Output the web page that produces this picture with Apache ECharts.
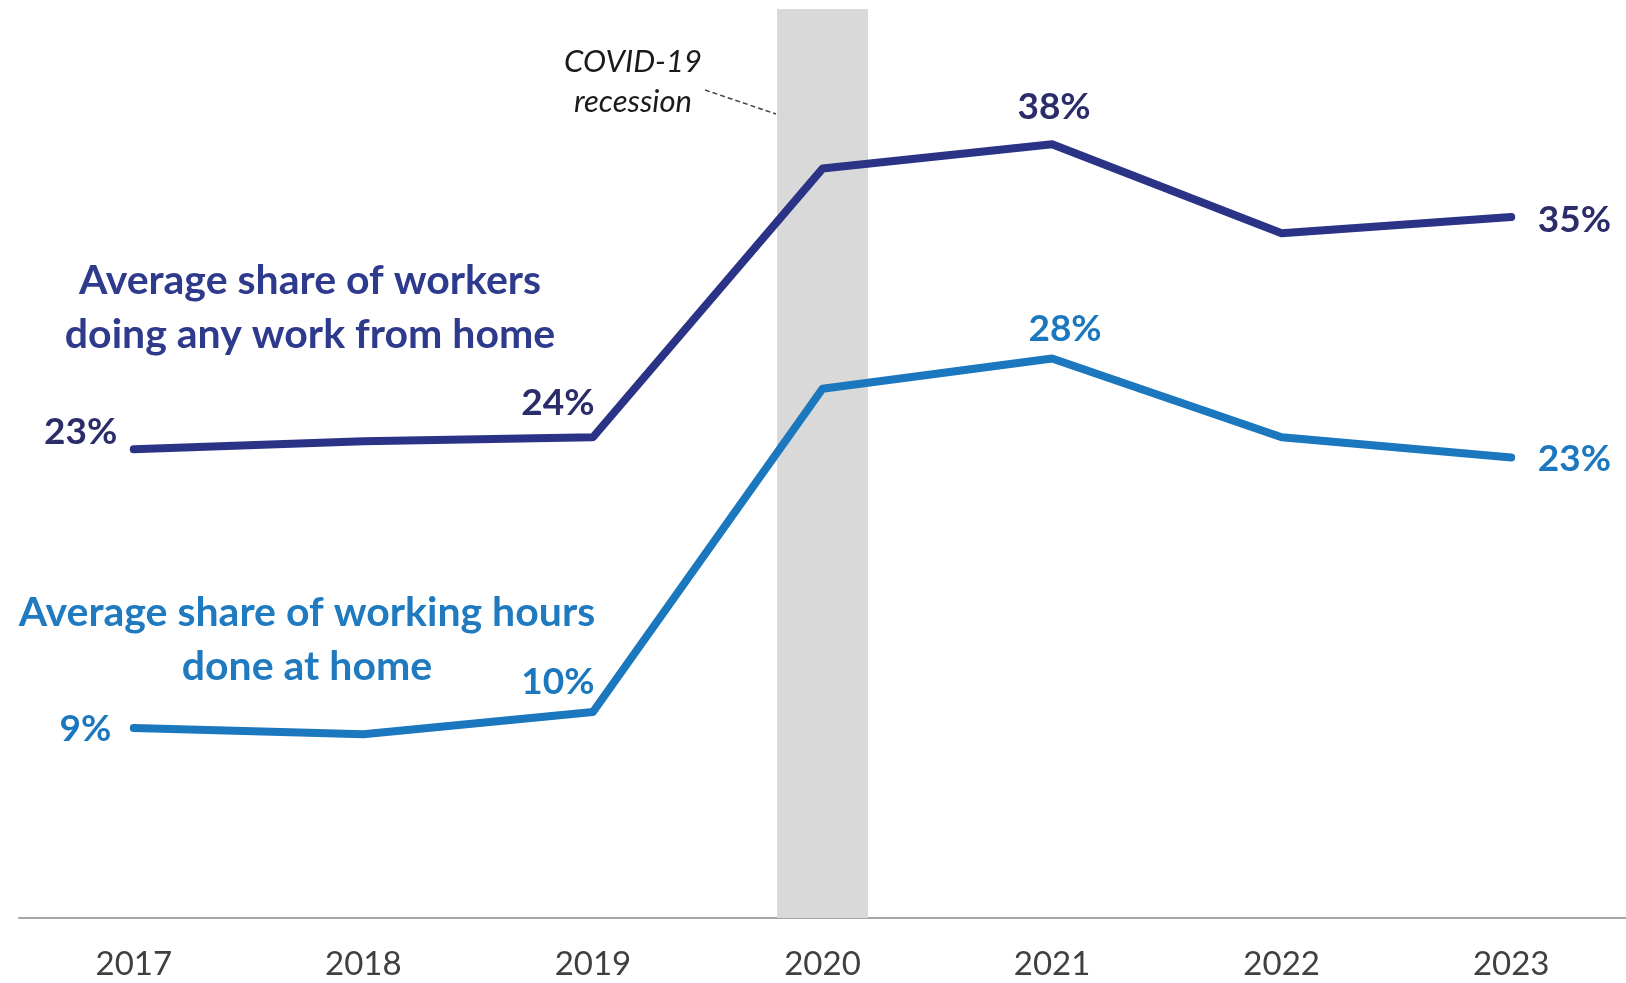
<!DOCTYPE html>
<html>
<head>
<meta charset="utf-8">
<script src="https://cdn.jsdelivr.net/npm/echarts@6/dist/echarts.min.js"></script>
<style>
    html, body { margin: 0; padding: 0; background: #fff; }
    #chart { width: 1626px; height: 983px; }
</style>
</head>
<body>
<div id="chart"></div>
<script>
var years = ["2017", "2018", "2019", "2020", "2021", "2022", "2023"];
var workersShare = [23.2, 23.6, 23.8, 37.1, 38.3, 33.9, 34.7];
var hoursShare = [9.4, 9.1, 10.2, 26.2, 27.7, 23.8, 22.8];
var recessionYear = "2020";
var yMax = 45;

(function() {
    var navy = "#2b3387";
    var navyText = "#2b2c6a";
    var blue = "#1b77be";
    var font = "Lato";

    // which points get a value label, and where
    var workersLabels = {
        0: { position: "left", distance: 16, offset: [0, -17] },
        2: { position: "top", offset: [-35, -10] },
        4: { position: "top", offset: [2, -13] },
        6: { position: "right", distance: 26, offset: [0, 3] }
    };
    var hoursLabels = {
        0: { position: "left", distance: 22, offset: [0, 1] },
        2: { position: "top", offset: [-35, -6] },
        4: { position: "top", offset: [13, -5] },
        6: { position: "right", distance: 26, offset: [0, 2] }
    };

    function buildData(values, labels, color) {
        return values.map(function(v, i) {
            var cfg = labels[i];
            return {
                value: v,
                label: cfg ? Object.assign({ show: true, color: color }, cfg) : { show: false }
            };
        });
    }

    var myChart = echarts.init(document.getElementById("chart"));
    var option = {
        animation: false,
        grid: {
            left: 19,
            right: 0,
            top: 9,
            bottom: 65
        },
        xAxis: {
            type: "category",
            data: years,
            axisLine: {
                lineStyle: { color: "#a6a6a6", width: 2 }
            },
            axisTick: { show: false },
            axisLabel: {
                color: "#404040",
                fontFamily: font,
                fontSize: 33,
                margin: 30
            }
        },
        yAxis: {
            type: "value",
            min: 0,
            max: yMax,
            show: false,
            splitLine: { show: false }
        },
        series: [{
            name: "recession",
            type: "bar",
            barWidth: 91,
            silent: true,
            z: 1,
            data: years.map(function(y) { return y === recessionYear ? yMax : null; }),
            itemStyle: { color: "#d9d9d9" }
        }, {
            name: "Average share of workers doing any work from home",
            type: "line",
            z: 3,
            symbol: "circle",
            symbolSize: 1,
            itemStyle: { color: navy },
            lineStyle: { color: navy, width: 8, cap: "round", join: "round" },
            label: {
                fontFamily: font,
                fontWeight: "bold",
                fontSize: 37,
                formatter: function(p) { return Math.round(p.value) + "%"; }
            },
            data: buildData(workersShare, workersLabels, navyText)
        }, {
            name: "Average share of working hours done at home",
            type: "line",
            z: 3,
            symbol: "circle",
            symbolSize: 1,
            itemStyle: { color: blue },
            lineStyle: { color: blue, width: 8, cap: "round", join: "round" },
            label: {
                fontFamily: font,
                fontWeight: "bold",
                fontSize: 37,
                formatter: function(p) { return Math.round(p.value) + "%"; }
            },
            data: buildData(hoursShare, hoursLabels, blue)
        }],
        graphic: [{
            type: "text",
            x: 310, y: 308,
            style: {
                text: "Average share of workers\ndoing any work from home",
                font: "bold 41px Lato",
                fill: "#2e3a8c",
                align: "center",
                verticalAlign: "middle",
                lineHeight: 54
            }
        }, {
            type: "text",
            x: 307, y: 640,
            style: {
                text: "Average share of working hours\ndone at home",
                font: "bold 41px Lato",
                fill: "#1f7ac0",
                align: "center",
                verticalAlign: "middle",
                lineHeight: 54
            }
        }, {
            type: "text",
            x: 633, y: 82,
            style: {
                text: "COVID-19\nrecession",
                font: "italic 31px Lato",
                fill: "#1a1a1a",
                align: "center",
                verticalAlign: "middle",
                lineHeight: 40
            }
        }, {
            type: "line",
            shape: { x1: 705, y1: 90, x2: 776, y2: 114 },
            style: { stroke: "#444", lineWidth: 1.5, lineDash: [5, 3] }
        }]
    };
    myChart.setOption(option);
    window.addEventListener("resize", function() {
        myChart.resize();
    });
})();
</script>
</body>
</html>
